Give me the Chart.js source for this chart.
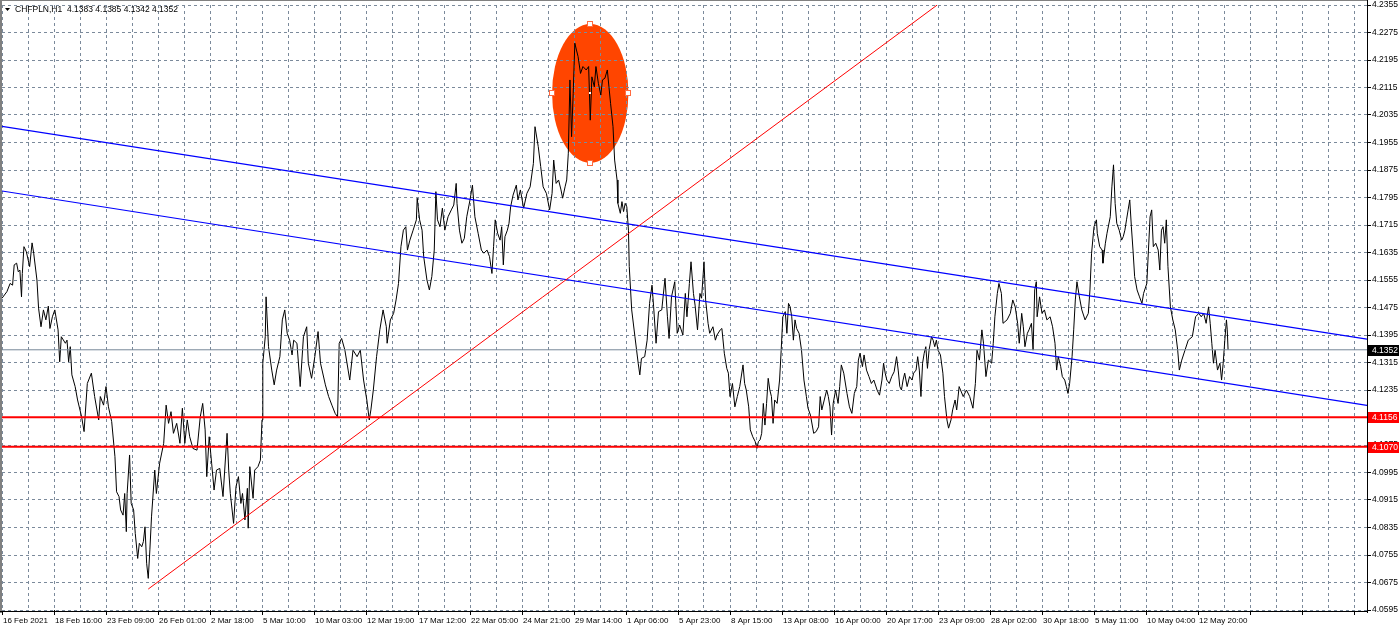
<!DOCTYPE html>
<html>
<head>
<meta charset="utf-8">
<title>CHFPLN,H1</title>
<script src="https://cdn.jsdelivr.net/npm/chart.js@4/dist/chart.umd.min.js"></script>
<style>
  html, body { margin: 0; padding: 0; background: #ffffff; }
  #wrap { width: 1400px; height: 630px; position: relative; }
</style>
</head>
<body>
<div id="wrap"><canvas id="chart" width="1400" height="630"></canvas></div>
<script>
// 심볼 / 마지막 봉 (O H L C)
const symbolName = 'CHFPLN,H1';
const lastBarOHLC = [4.1383, 4.1385, 4.1342, 4.1352];

// 시간축 라벨 (64봉 간격)
const timeLabels = [
  '16 Feb 2021', '18 Feb 16:00', '23 Feb 09:00', '26 Feb 01:00', '2 Mar 18:00', '5 Mar 10:00',
  '10 Mar 03:00', '12 Mar 19:00', '17 Mar 12:00', '22 Mar 05:00', '24 Mar 21:00', '29 Mar 14:00',
  '1 Apr 06:00', '5 Apr 23:00', '8 Apr 15:00', '13 Apr 08:00', '16 Apr 00:00', '20 Apr 17:00',
  '23 Apr 09:00', '28 Apr 02:00', '30 Apr 18:00', '5 May 11:00', '10 May 04:00', '12 May 20:00'
];

// 가격축 눈금
const priceTicks = [
  4.2355, 4.2275, 4.2195, 4.2115, 4.2035, 4.1955, 4.1875, 4.1795, 4.1715, 4.1635, 4.1555, 4.1475,
  4.1395, 4.1315, 4.1235, 4.1155, 4.1075, 4.0995, 4.0915, 4.0835, 4.0755, 4.0675, 4.0595
];

// 종가 [봉 번호, 가격]
const closesFeb = [
  [0,4.1502],[6,4.1521],[10,4.1545],[13,4.1540],[15,4.1599],[18,4.1604],[20,4.1579],[22,4.1584],[24,4.1506],[25,4.1574],
  [27,4.1652],[30,4.1637],[34,4.1594],[37,4.1663],[39,4.1633],[43,4.1555],[45,4.1473],[48,4.1419],[51,4.1468],[54,4.1439],
  [57,4.1479],[59,4.1414],[62,4.1448],[65,4.1468],[69,4.1410],[71,4.1317],[73,4.1390],[78,4.1371],[80,4.1380],[82,4.1317],
  [84,4.1361],[86,4.1279],[90,4.1245],[93,4.1206],[98,4.1157],[101,4.1114],[105,4.1254],[110,4.1284],[114,4.1216],[119,4.1148],
  [121,4.1216],[125,4.1191],[128,4.1245],[131,4.1186],[135,4.1143],[139,4.1041],[141,4.0939],[144,4.0925],[146,4.0886],[149,4.0871],
  [151,4.0934],[153,4.0823],[154,4.0934],[157,4.1046],[159,4.0905],[162,4.0886],[164,4.0818],[167,4.0745],[169,4.0789],[172,4.0779],
  [174,4.0794],[176,4.0837],[178,4.0731],[180,4.0687],[182,4.0770],[184,4.0866],[188,4.1002],[190,4.0934],[194,4.1022],[199,4.1080],
  [202,4.1191],[205,4.1138],[208,4.1172],[211,4.1109],[215,4.1138],[219,4.1080],[222,4.1182],[225,4.1080],[228,4.1148],[231,4.1099],
  [235,4.1065],[240,4.1060],[244,4.1157],[247,4.1196],[250,4.1119],[252,4.0983],[255,4.1099],[258,4.1022],[261,4.0944],[264,4.1002],
  [268,4.1007],[272,4.0925],[277,4.1109],[279,4.1002],[281,4.0934],[285,4.0847],[288,4.0954],[291,4.0983],[294,4.0905],[296,4.0934],
  [299,4.0857],[302,4.0949],[303,4.0833],[305,4.1012],[309,4.0920],[311,4.1002],[315,4.1012],[318,4.1031],[320,4.1148],[321,4.1313],
  [324,4.1390],[325,4.1506],[328,4.1361],[332,4.1293],[335,4.1250],[338,4.1293],[342,4.1332],[345,4.1439],[348,4.1468],[351,4.1400],
  [354,4.1380],[357,4.1337],[359,4.1380],[363,4.1371],[367,4.1245]
];
const closesMar = [
  [371,4.1390],[375,4.1419],[377,4.1313],[381,4.1269],[385,4.1332],[389,4.1405],[392,4.1313],[398,4.1250],[402,4.1216],[406,4.1191],
  [410,4.1167],[413,4.1157],[415,4.1371],[418,4.1385],[422,4.1351],[426,4.1293],[428,4.1264],[432,4.1351],[437,4.1332],[441,4.1351],
  [445,4.1264],[449,4.1206],[452,4.1148],[454,4.1177],[457,4.1235],[461,4.1332],[465,4.1410],[469,4.1468],[473,4.1419],[474,4.1371],
  [478,4.1439],[482,4.1458],[485,4.1497],[488,4.1545],[491,4.1652],[494,4.1700],[497,4.1710],[499,4.1642],[502,4.1671],[506,4.1700],
  [510,4.1730],[511,4.1793],[514,4.1730],[517,4.1700],[519,4.1623],[523,4.1555],[526,4.1526],[529,4.1565],[532,4.1642],[534,4.1812],
  [536,4.1730],[539,4.1710],[542,4.1764],[545,4.1700],[549,4.1739],[553,4.1759],[556,4.1773],[559,4.1836],[560,4.1778],[563,4.1700],
  [566,4.1662],[569,4.1676],[572,4.1739],[576,4.1788],[579,4.1831],[582,4.1739],[586,4.1691],[590,4.1642],[593,4.1633],[597,4.1642],
  [600,4.1623],[603,4.1574],[605,4.1652],[607,4.1730],[610,4.1691],[613,4.1671],[615,4.1710],[617,4.1599],[619,4.1681],[622,4.1700],
  [624,4.1720],[626,4.1768],[629,4.1802],[633,4.1831],[635,4.1788],[638,4.1817],[642,4.1764],[646,4.1807],[650,4.1826],[654,4.1894],
  [656,4.2001],[660,4.1943],[663,4.1885],[666,4.1826],[670,4.1807],[674,4.1759],[677,4.1807],[679,4.1904],[682,4.1836],[685,4.1846],
  [688,4.1817],[690,4.1793],[693,4.1826],[695,4.1846],[697,4.1924],[699,4.2137],[701,4.1972],[703,4.2098],[705,4.2244],[707,4.2224],
  [709,4.2205],[712,4.2156],[715,4.2176],[719,4.2166],[722,4.2176],[724,4.2020],[726,4.2146],[729,4.2117],[731,4.2176],[734,4.2127],
  [737,4.2093],[739,4.2137],[742,4.2142],[745,4.2166],[747,4.2117],[749,4.2069],[752,4.2001],[754,4.1904],[757,4.1846],[758,4.1778],
  [761,4.1749],[763,4.1783],[765,4.1754],[767,4.1778],[769,4.1768],[771,4.1700]
];
const closesApr = [
  [772,4.1594],[775,4.1468],[779,4.1390],[783,4.1313],[785,4.1279],[787,4.1327],[791,4.1332],[794,4.1380],[797,4.1487],[800,4.1540],
  [802,4.1477],[805,4.1371],[808,4.1463],[812,4.1468],[816,4.1560],[819,4.1448],[821,4.1385],[824,4.1506],[828,4.1550],[831,4.1400],
  [834,4.1424],[838,4.1395],[841,4.1516],[843,4.1448],[846,4.1545],[848,4.1608],[851,4.1516],[853,4.1482],[856,4.1410],[859,4.1516],
  [861,4.1502],[864,4.1608],[866,4.1497],[869,4.1429],[871,4.1400],[875,4.1419],[878,4.1380],[880,4.1395],[884,4.1410],[886,4.1414],
  [889,4.1342],[892,4.1298],[894,4.1284],[896,4.1216],[899,4.1254],[902,4.1186],[905,4.1216],[908,4.1245],[912,4.1308],[914,4.1254],
  [916,4.1235],[919,4.1186],[921,4.1119],[924,4.1099],[927,4.1085],[929,4.1065],[931,4.1085],[933,4.1090],[935,4.1109],[937,4.1196],
  [939,4.1133],[941,4.1196],[943,4.1269],[945,4.1235],[947,4.1216],[949,4.1138],[951,4.1206],[954,4.1196],[957,4.1264],[959,4.1351],
  [961,4.1448],[964,4.1463],[966,4.1400],[968,4.1487],[970,4.1477],[972,4.1448],[974,4.1380],[976,4.1439],[978,4.1414],[981,4.1400],
  [984,4.1351],[987,4.1264],[990,4.1216],[992,4.1182],[995,4.1162],[999,4.1109],[1002,4.1114],[1005,4.1128],[1007,4.1216],[1009,4.1177],
  [1012,4.1206],[1015,4.1235],[1017,4.1216],[1019,4.1186],[1021,4.1104],[1023,4.1196],[1026,4.1235],[1029,4.1196],[1031,4.1245],[1033,4.1308],
  [1036,4.1284],[1040,4.1225],[1043,4.1186],[1046,4.1167],[1049,4.1225],[1052,4.1245],[1054,4.1322],[1056,4.1342],[1059,4.1303],[1061,4.1337],
  [1064,4.1293],[1067,4.1274],[1070,4.1254],[1073,4.1264],[1077,4.1235],[1080,4.1220],[1083,4.1264],[1085,4.1313],[1087,4.1284],[1089,4.1264],
  [1092,4.1254],[1095,4.1274],[1098,4.1288],[1101,4.1332],[1103,4.1293],[1105,4.1245],[1107,4.1235],[1109,4.1264],[1111,4.1284],[1114,4.1245],
  [1117,4.1274],[1120,4.1264],[1122,4.1284],[1125,4.1293],[1127,4.1332],[1129,4.1293],[1131,4.1216],[1133,4.1313],[1135,4.1342],[1137,4.1361],
  [1139,4.1298],[1141,4.1351],[1144,4.1390],[1146,4.1380],[1148,4.1361],[1150,4.1380],[1152,4.1351],[1155,4.1337],[1158,4.1284],[1160,4.1216],
  [1163,4.1148],[1165,4.1124],[1168,4.1148],[1170,4.1177],[1173,4.1206],[1175,4.1177],[1178,4.1245]
];
const closesMay = [
  [1183,4.1216],[1187,4.1235],[1191,4.1216],[1195,4.1182],[1198,4.1254],[1200,4.1351],[1203,4.1322],[1206,4.1410],[1208,4.1371],[1211,4.1274],
  [1214,4.1322],[1218,4.1313],[1220,4.1371],[1222,4.1448],[1225,4.1516],[1227,4.1545],[1230,4.1516],[1232,4.1429],[1237,4.1439],[1241,4.1458],
  [1244,4.1497],[1247,4.1477],[1250,4.1429],[1252,4.1371],[1255,4.1458],[1257,4.1419],[1259,4.1361],[1262,4.1400],[1264,4.1410],[1267,4.1429],
  [1269,4.1351],[1271,4.1526],[1273,4.1550],[1274,4.1448],[1277,4.1506],[1280,4.1458],[1283,4.1468],[1286,4.1439],[1290,4.1448],[1293,4.1419],
  [1296,4.1371],[1298,4.1293],[1300,4.1332],[1303,4.1303],[1305,4.1274],[1308,4.1264],[1310,4.1245],[1312,4.1225],[1314,4.1254],[1317,4.1332],
  [1319,4.1410],[1321,4.1497],[1323,4.1550],[1326,4.1506],[1329,4.1468],[1333,4.1439],[1337,4.1458],[1339,4.1526],[1341,4.1633],[1344,4.1710],
  [1347,4.1730],[1348,4.1691],[1351,4.1652],[1354,4.1642],[1355,4.1604],[1358,4.1662],[1360,4.1691],[1362,4.1715],[1364,4.1739],[1366,4.1826],
  [1368,4.1890],[1370,4.1778],[1372,4.1720],[1375,4.1700],[1378,4.1671],[1380,4.1681],[1382,4.1700],[1384,4.1730],[1386,4.1759],[1388,4.1788],
  [1390,4.1710],[1392,4.1642],[1394,4.1565],[1397,4.1526],[1400,4.1506],[1403,4.1487],[1405,4.1516],[1409,4.1545],[1411,4.1642],[1413,4.1739],
  [1415,4.1759],[1417,4.1652],[1420,4.1662],[1423,4.1642],[1425,4.1584],[1427,4.1700],[1429,4.1710],[1431,4.1662],[1433,4.1730],[1435,4.1594],
  [1438,4.1477],[1441,4.1439],[1444,4.1410],[1447,4.1351],[1449,4.1293],[1452,4.1322],[1456,4.1351],[1460,4.1380],[1465,4.1390],[1469,4.1448],
  [1473,4.1458],[1476,4.1448],[1479,4.1458],[1482,4.1429],[1485,4.1477],[1487,4.1429],[1489,4.1371],[1491,4.1313],[1493,4.1351],[1496,4.1293],
  [1499,4.1313],[1501,4.1264],[1503,4.1313],[1505,4.1380],[1507,4.1439],[1508,4.1410],[1509,4.1352]
];

// 추세선 / 수평선 [봉 번호, 가격]
const channelUpper = [[0, 4.2002], [1680, 4.1383]];
const channelLower = [[0, 4.1814], [1680, 4.1190]];
const risingTrend = [[180, 4.0656], [1151, 4.2355]];
const levelPrices = [4.1156, 4.1070];
const lastPrice = 4.1352;

// 타원 영역 (봉 번호 / 가격 범위)
const ellipseBars = [677, 771];
const ellipsePrices = [4.2300, 4.1896];

const MAX_BAR = 1680;
const BARS_PER_GRID = 32;
const GRID_COLOR = '#7b8a9b';
const FONT_FAMILY = "'Liberation Sans', Arial, sans-serif";
const FONT_SIZE = 8;

const toPoints = arr => arr.map(([x, y]) => ({ x, y }));
const lineDataset = (data, color, width) => ({
  data, borderColor: color, borderWidth: width, pointRadius: 0, tension: 0, fill: false
});

// 타원 (배경에 그림)
const ellipsePlugin = {
  id: 'ellipse',
  beforeDraw(chart) {
    const { ctx, chartArea, scales: { x, y } } = chart;
    const x1 = x.getPixelForValue(ellipseBars[0]);
    const x2 = x.getPixelForValue(ellipseBars[1]);
    const y1 = y.getPixelForValue(ellipsePrices[0]);
    const y2 = y.getPixelForValue(ellipsePrices[1]);
    ctx.save();
    ctx.beginPath();
    ctx.rect(chartArea.left, chartArea.top, chartArea.right - chartArea.left, chartArea.bottom - chartArea.top);
    ctx.clip();
    ctx.fillStyle = '#ff4500';
    ctx.beginPath();
    ctx.ellipse((x1 + x2) / 2, (y1 + y2) / 2, (x2 - x1) / 2, (y2 - y1) / 2, 0, 0, Math.PI * 2);
    ctx.fill();
    ctx.restore();
  },
  afterDatasetsDraw(chart) {
    const { ctx, scales: { x, y } } = chart;
    const x1 = x.getPixelForValue(ellipseBars[0]);
    const x2 = x.getPixelForValue(ellipseBars[1]);
    const y1 = y.getPixelForValue(ellipsePrices[0]);
    const y2 = y.getPixelForValue(ellipsePrices[1]);
    const cx = (x1 + x2) / 2;
    const cy = (y1 + y2) / 2;
    // 선택 핸들
    ctx.save();
    ctx.fillStyle = '#ffffff';
    ctx.strokeStyle = '#ff6a40';
    ctx.lineWidth = 1;
    [[cx, y1], [cx, y2], [x1, cy], [x2, cy]].forEach(([px, py]) => {
      ctx.fillRect(Math.round(px) - 2, Math.round(py) - 2, 4, 4);
      ctx.strokeRect(Math.round(px) - 2.5, Math.round(py) - 2.5, 5, 5);
    });
    ctx.fillRect(Math.round(cx) - 1, Math.round(cy) - 1, 2, 2);
    ctx.restore();
  }
};

// 테두리, 가격 라벨, 제목
const overlayPlugin = {
  id: 'overlay',
  afterDraw(chart) {
    const { ctx, chartArea, scales: { y } } = chart;
    const right = chartArea.right;
    ctx.save();
    // 테두리
    ctx.fillStyle = '#808080';
    ctx.fillRect(0, 0, 2, 613);
    ctx.fillRect(0, 0, right + 1, 1);
    ctx.fillStyle = '#000000';
    ctx.fillRect(right, 0, 1, 613);
    ctx.fillRect(0, 611, right + 1, 1);

    // 가격 라벨 박스
    ctx.font = (FONT_SIZE + 0.5) + 'px ' + FONT_FAMILY;
    ctx.textBaseline = 'middle';
    ctx.textAlign = 'left';
    const box = (value, bg) => {
      const py = Math.round(y.getPixelForValue(value));
      ctx.fillStyle = bg;
      ctx.fillRect(right + 1, py - 5, 31, 11);
      ctx.fillStyle = '#ffffff';
      ctx.fillText(value.toFixed(4), right + 5, py + 0.5);
    };
    levelPrices.forEach(v => box(v, '#ff0000'));
    box(lastPrice, '#000000');

    // 제목
    ctx.fillStyle = '#000000';
    ctx.beginPath();
    ctx.moveTo(5, 8);
    ctx.lineTo(10, 8);
    ctx.lineTo(7.5, 11);
    ctx.closePath();
    ctx.fill();
    ctx.fillText(symbolName + '  ' + lastBarOHLC.map(v => v.toFixed(4)).join(' '), 15, 9.5);
    ctx.restore();
  }
};

const closeSeries = toPoints([...closesFeb, ...closesMar, ...closesApr, ...closesMay]);

const datasets = [
  lineDataset(toPoints(risingTrend), '#ff0000', 1),
  lineDataset(toPoints(channelUpper), '#0000ff', 1.2),
  lineDataset(toPoints(channelLower), '#0000ff', 1.2),
  ...levelPrices.map(v => lineDataset([{ x: 0, y: v }, { x: MAX_BAR, y: v }], '#ff0000', 2)),
  lineDataset([{ x: 0, y: lastPrice }, { x: MAX_BAR, y: lastPrice }], '#778899', 1),
  lineDataset(closeSeries, '#000000', 1)
];

const tickFont = { family: FONT_FAMILY, size: FONT_SIZE };

new Chart(document.getElementById('chart').getContext('2d'), {
  type: 'line',
  data: { datasets },
  options: {
    responsive: false,
    animation: false,
    events: [],
    layout: { padding: { left: 2, top: 5, right: 0, bottom: 0 } },
    plugins: { legend: { display: false }, tooltip: { enabled: false }, title: { display: false } },
    scales: {
      x: {
        type: 'linear',
        min: 0,
        max: MAX_BAR,
        afterBuildTicks: scale => {
          const ticks = [];
          for (let v = 0; v <= MAX_BAR; v += BARS_PER_GRID) ticks.push({ value: v });
          scale.ticks = ticks;
        },
        afterFit: scale => {
          scale.height = 20;
          scale.paddingLeft = 0;
          scale.paddingRight = 0;
        },
        ticks: {
          autoSkip: false,
          maxRotation: 0,
          minRotation: 0,
          align: 'start',
          labelOffset: 1,
          padding: 1,
          color: '#000000',
          font: tickFont,
          callback: (value, index) => (index % 2 === 0 && timeLabels[index / 2]) ? timeLabels[index / 2] : ''
        },
        grid: {
          color: GRID_COLOR,
          lineWidth: 1,
          tickLength: 5,
          tickColor: ctx => (ctx.index % 2 === 0 ? '#000000' : 'rgba(0,0,0,0)')
        },
        border: { display: false, dash: [3, 3] }
      },
      y: {
        type: 'linear',
        position: 'right',
        min: 4.0595,
        max: 4.2355,
        afterBuildTicks: scale => {
          scale.ticks = priceTicks.map(v => ({ value: v }));
        },
        afterFit: scale => {
          scale.width = 33;
          scale.paddingTop = 0;
          scale.paddingBottom = 0;
        },
        ticks: {
          autoSkip: false,
          padding: 1,
          color: '#000000',
          font: { family: FONT_FAMILY, size: FONT_SIZE + 0.5 },
          callback: value => Number(value).toFixed(4)
        },
        grid: { color: GRID_COLOR, lineWidth: 1, tickLength: 4, tickColor: '#000000' },
        border: { display: false, dash: [3, 3] }
      }
    }
  },
  plugins: [ellipsePlugin, overlayPlugin]
});
</script>
</body>
</html>
